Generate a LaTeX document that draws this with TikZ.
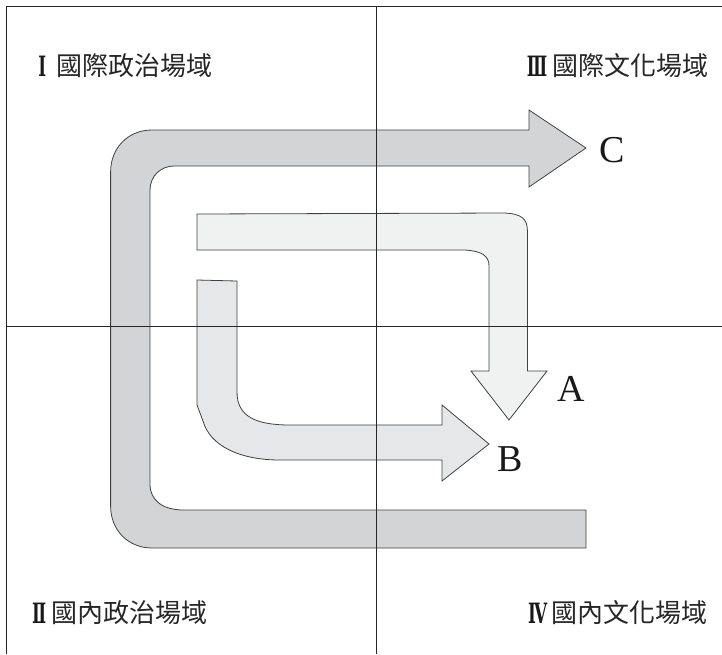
\documentclass[tikz,border=0pt]{standalone}
\usepackage{fontspec}
\newfontfamily\cjk{Noto Sans CJK TC}
\newfontfamily\lat{Liberation Serif}
\newfontfamily\numf[FakeStretch=0.6]{DejaVu Serif}
\begin{document}
\begin{tikzpicture}[x=1pt,y=-1pt,
  shapeline/.style={draw=black!75,line width=0.8pt,line join=miter},
  gridline/.style={draw=black!85,line width=0.8pt},
  quadlabel/.style={inner sep=0pt,font=\cjk\fontsize{26}{26}\selectfont,text=black!85},
  numlabel/.style={inner sep=0pt,font=\numf\bfseries\fontsize{28}{28}\selectfont,text=black!90},
  letterlabel/.style={inner sep=0pt,font=\lat\fontsize{38}{38}\selectfont,text=black!90}]
\definecolor{cfill}{RGB}{211,212,214}
\definecolor{afill}{RGB}{240,241,241}
\definecolor{bfill}{RGB}{230,231,232}
\useasboundingbox (0,0) rectangle (722,654);
% arrow C
\path[shapeline,fill=cfill] (586,510) -- (586,548) -- (152,548)
  .. controls (128,548) and (110.6,530) .. (110.6,506) -- (110.6,172)
  .. controls (110.6,148) and (128,130) .. (152,130) -- (529,130) -- (529,110)
  -- (586,148) -- (529,187) -- (529,166) -- (174,166)
  .. controls (161,166) and (150,176) .. (150,190) -- (150,484)
  .. controls (150,500) and (162,510) .. (184,510) -- cycle;
% arrow A
\path[shapeline,fill=afill] (197,214) -- (505,213)
  .. controls (521,214) and (527.5,218) .. (527.5,232) -- (527.5,371) -- (547,371)
  -- (509,420) -- (471,371) -- (489,371) -- (489,266)
  .. controls (489,256) and (482,251) .. (465,250) -- (197,250) -- cycle;
% arrow B
\path[shapeline,fill=bfill] (197,280) -- (237,281) -- (237,392)
  .. controls (237,416) and (255,425) .. (290,425) -- (442,425) -- (442,405)
  -- (489,444) -- (442,481) -- (442,460) -- (280,460)
  .. controls (240,460) and (210,446) .. (203,421) -- (197,405) -- cycle;
% frame and cross
\draw[gridline] (6.5,654) -- (6.5,6) -- (722,6);
\draw[gridline] (376,6) -- (376,654);
\draw[gridline] (6.5,326) -- (722,326);
% labels
\node[numlabel,anchor=east] (n1) at (46.5,66) {Ⅰ};
\node[quadlabel,anchor=west] (q1) at (56,66) {國際政治場域};
\node[numlabel,anchor=east] (n3) at (547.5,66) {Ⅲ};
\node[quadlabel,anchor=east] (q3) at (709,66) {國際文化場域};
\node[numlabel,anchor=east] (n2) at (46.5,613) {Ⅱ};
\node[quadlabel,anchor=west] (q2) at (51,613) {國內政治場域};
\node[numlabel,anchor=east] (n4) at (547.5,613) {Ⅳ};
\node[quadlabel,anchor=east] (q4) at (708,613) {國內文化場域};
\node[letterlabel] (lc) at (612,150) {C};
\node[letterlabel] (la) at (571,389) {A};
\node[letterlabel] (lb) at (510,459) {B};
\end{tikzpicture}
\end{document}
